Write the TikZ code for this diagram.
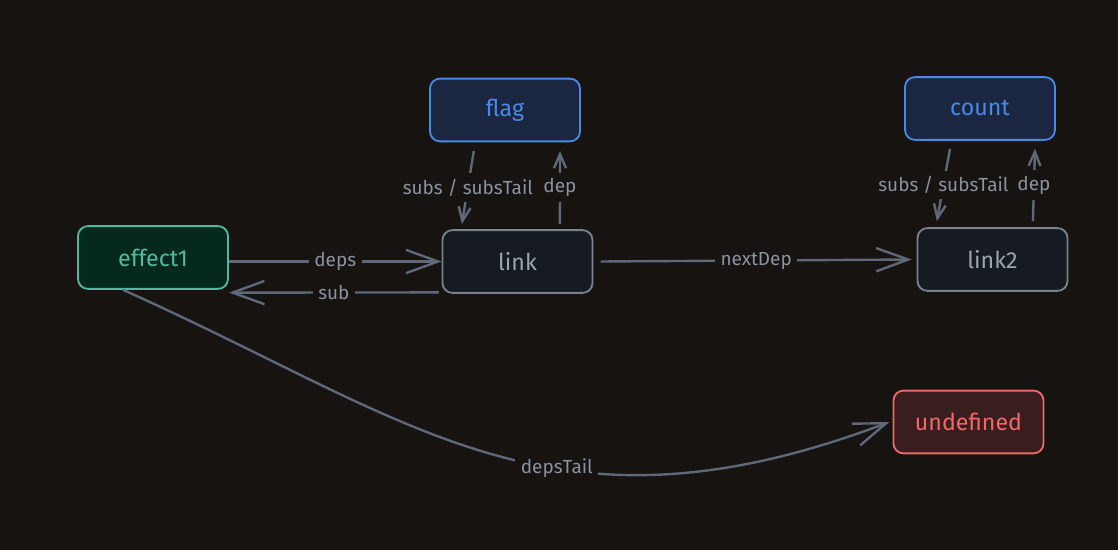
\documentclass[tikz,border=0pt]{standalone}
\usepackage{fontspec}
\setmainfont{Fira Sans}
\usetikzlibrary{arrows.meta}

\definecolor{bg}{HTML}{161310}
\definecolor{wire}{HTML}{5E6878}
\definecolor{wiretext}{HTML}{8A93A0}
\definecolor{effectfill}{HTML}{06291D}
\definecolor{effectline}{HTML}{54B8A1}
\definecolor{sigfill}{HTML}{1B2740}
\definecolor{sigline}{HTML}{4A88E6}
\definecolor{linkfill}{HTML}{161A21}
\definecolor{linkline}{HTML}{7A8290}
\definecolor{linktext}{HTML}{9BA4AF}
\definecolor{undeffill}{HTML}{3A1D1F}
\definecolor{undefline}{HTML}{F06868}

\begin{document}
\begin{tikzpicture}[x=0.025cm, y=-0.025cm, thick,
    box/.style = {draw, rounded corners=0.25cm, line width=1.3pt,
                  minimum width=3.75cm, minimum height=1.57cm, font=\fontsize{16.5}{20}\selectfont},
    effect/.style = {box, fill=effectfill, draw=effectline, text=effectline},
    signal/.style = {box, fill=sigfill, draw=sigline, text=sigline},
    linknode/.style = {box, fill=linkfill, draw=linkline, text=linktext},
    undef/.style = {box, fill=undeffill, draw=undefline, text=undefline},
    wire/.style = {draw=wire, line width=1.7pt, -{Straight Barb[length=0.8cm, width=0.58cm]}},
    thin wire/.style = {draw=wire, line width=1.7pt, -{Straight Barb[length=0.35cm, width=0.3cm]}},
    lbl/.style = {fill=bg, text=wiretext, inner sep=4pt, font=\fontsize{13.5}{16}\selectfont}]

    % sfondo
    \fill[bg] (0,0) rectangle (1118,550);
    \useasboundingbox (0,0) rectangle (1118,550);

    % nodi
    \node[effect] (effect1) at (153,257.5) {effect1};
    \node[signal] (flag) at (505,110) {flag};
    \node[linknode] (link) at (517.5,261.5) {link};
    \node[signal] (count) at (980,108.5) {count};
    \node[linknode] (link2) at (992.5,259.5) {link2};
    \node[undef] (undefined) at (968.5,422) {undefined};

    % effect1 <-> link
    \draw[wire] (effect1.east |- link.west) to node[lbl] {deps} (link.west);
    \draw[wire] ([xshift=-2pt,yshift=1pt]link.south west) to node[lbl] {sub} ([yshift=-2pt]effect1.south east);

    % flag <-> link
    \draw[thin wire] ([xshift=-0.78cm,yshift=-0.22cm]flag.south) to node[lbl] {subs / subsTail} ([xshift=-1.39cm,yshift=0.13cm]link.north);
    \draw[thin wire] ([xshift=1.06cm,yshift=0.13cm]link.north) to node[lbl] {dep} ([xshift=1.375cm,yshift=-0.22cm]flag.south);

    % link -> link2
    \draw[wire] ([xshift=0.18cm]link.east) to node[lbl] {nextDep} ([xshift=-0.12cm]link2.west);

    % count <-> link2
    \draw[thin wire] ([xshift=-0.75cm,yshift=-0.2cm]count.south) to node[lbl] {subs / subsTail} ([xshift=-1.39cm,yshift=0.15cm]link2.north);
    \draw[thin wire] ([xshift=1.01cm,yshift=0.15cm]link2.north) to node[lbl] {dep} ([xshift=1.375cm,yshift=-0.2cm]count.south);

    % effect1 -> undefined
    \draw[wire] ([xshift=-0.75cm]effect1.south) .. controls (414,420) and (550,550) .. node[lbl, pos=0.6] {depsTail} ([xshift=-0.08cm]undefined.west);

\end{tikzpicture}
\end{document}
